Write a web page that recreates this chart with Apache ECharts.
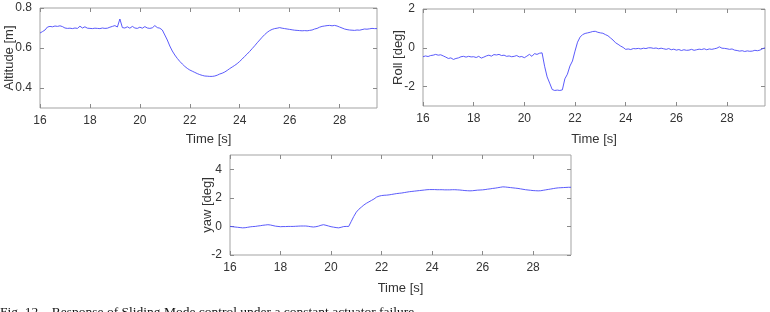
<!DOCTYPE html>
<html>
<head>
<meta charset="utf-8">
<script src="https://cdn.jsdelivr.net/npm/echarts@6/dist/echarts.min.js"></script>
<style>
html,body{margin:0;padding:0;background:#fff;}
#chart{width:770px;height:312px;}
</style>
</head>
<body>
<div id="chart"></div>
<script>
// ---- data ----
const time = [
16.0,16.1,16.2,16.3,16.4,16.5,16.6,16.7,16.8,16.9,
17.0,17.1,17.2,17.3,17.4,17.5,17.6,17.7,17.8,17.9,
18.0,18.1,18.2,18.3,18.4,18.5,18.6,18.7,18.8,18.9,
19.0,19.1,19.2,19.3,19.4,19.5,19.6,19.7,19.8,19.9,
20.0,20.1,20.2,20.3,20.4,20.5,20.6,20.7,20.8,20.9,
21.0,21.1,21.2,21.3,21.4,21.5,21.6,21.7,21.8,21.9,
22.0,22.1,22.2,22.3,22.4,22.5,22.6,22.7,22.8,22.9,
23.0,23.1,23.2,23.3,23.4,23.5,23.6,23.7,23.8,23.9,
24.0,24.1,24.2,24.3,24.4,24.5,24.6,24.7,24.8,24.9,
25.0,25.1,25.2,25.3,25.4,25.5,25.6,25.7,25.8,25.9,
26.0,26.1,26.2,26.3,26.4,26.5,26.6,26.7,26.8,26.9,
27.0,27.1,27.2,27.3,27.4,27.5,27.6,27.7,27.8,27.9,
28.0,28.1,28.2,28.3,28.4,28.5,28.6,28.7,28.8,28.9,
29.0,29.1,29.2,29.3,29.4,29.5
];
const altitude = [
0.675,0.682,0.690,0.705,0.708,0.706,0.710,0.708,0.711,0.707,
0.700,0.698,0.699,0.697,0.700,0.698,0.709,0.700,0.706,0.699,
0.698,0.697,0.699,0.698,0.697,0.700,0.698,0.699,0.704,0.708,
0.712,0.705,0.745,0.702,0.700,0.706,0.699,0.708,0.700,0.698,
0.704,0.699,0.707,0.700,0.698,0.701,0.712,0.702,0.699,0.690,
0.665,0.640,0.610,0.585,0.565,0.548,0.533,0.520,0.508,0.498,
0.490,0.484,0.478,0.472,0.467,0.463,0.460,0.459,0.458,0.458,
0.460,0.464,0.470,0.474,0.480,0.488,0.497,0.505,0.513,0.522,
0.533,0.545,0.558,0.570,0.583,0.597,0.611,0.626,0.640,0.654,
0.667,0.678,0.687,0.693,0.697,0.699,0.702,0.699,0.697,0.695,
0.693,0.691,0.689,0.688,0.687,0.686,0.687,0.686,0.688,0.690,
0.695,0.698,0.704,0.708,0.710,0.712,0.713,0.711,0.713,0.710,
0.705,0.700,0.695,0.692,0.690,0.689,0.688,0.690,0.689,0.692,
0.695,0.694,0.696,0.698,0.697,0.697
];
const roll = [
-0.46,-0.42,-0.45,-0.40,-0.38,-0.34,-0.38,-0.36,-0.42,-0.48,
-0.55,-0.52,-0.60,-0.55,-0.52,-0.46,-0.44,-0.48,-0.44,-0.47,
-0.46,-0.50,-0.44,-0.53,-0.48,-0.42,-0.38,-0.43,-0.35,-0.37,
-0.34,-0.40,-0.38,-0.44,-0.42,-0.46,-0.44,-0.40,-0.47,-0.45,
-0.51,-0.43,-0.34,-0.44,-0.30,-0.34,-0.28,-0.26,-0.95,-1.50,
-1.82,-2.15,-2.20,-2.18,-2.20,-2.17,-1.60,-1.36,-0.94,-0.68,
-0.17,0.29,0.55,0.68,0.74,0.77,0.80,0.84,0.85,0.80,
0.77,0.75,0.68,0.62,0.51,0.40,0.26,0.18,0.09,0.02,
-0.08,-0.06,-0.09,-0.04,-0.05,-0.03,-0.06,-0.02,-0.04,0.00,
0.00,-0.03,-0.01,-0.05,-0.02,-0.05,-0.08,-0.04,-0.10,-0.07,
-0.12,-0.09,-0.14,-0.10,-0.13,-0.12,-0.08,-0.13,-0.10,-0.07,
-0.09,-0.05,-0.10,-0.06,-0.08,-0.05,-0.02,0.05,-0.02,-0.03,
-0.05,-0.08,-0.06,-0.12,-0.14,-0.17,-0.15,-0.19,-0.16,-0.18,
-0.17,-0.13,-0.15,-0.12,-0.05,0.00
];
const yaw = [
0.00,-0.02,-0.04,-0.06,-0.08,-0.10,-0.09,-0.06,-0.03,-0.01,
0.00,0.03,0.05,0.08,0.10,0.12,0.10,0.06,0.02,0.00,
-0.02,-0.01,-0.01,0.00,0.00,0.00,0.01,0.02,0.03,0.03,
0.03,0.01,-0.02,-0.04,-0.02,0.02,0.08,0.12,0.08,0.03,
-0.02,-0.05,-0.08,-0.10,-0.06,-0.01,0.00,0.00,0.35,0.70,
1.00,1.20,1.35,1.50,1.62,1.72,1.82,1.92,2.05,2.12,
2.16,2.18,2.19,2.21,2.24,2.27,2.30,2.32,2.34,2.37,
2.40,2.43,2.45,2.47,2.49,2.51,2.53,2.55,2.57,2.58,
2.58,2.58,2.57,2.57,2.57,2.56,2.56,2.56,2.57,2.57,
2.56,2.55,2.53,2.51,2.50,2.49,2.50,2.52,2.54,2.55,
2.56,2.58,2.61,2.63,2.66,2.68,2.71,2.74,2.77,2.76,
2.74,2.72,2.70,2.68,2.66,2.63,2.60,2.57,2.55,2.53,
2.51,2.50,2.49,2.50,2.53,2.56,2.59,2.62,2.65,2.68,
2.70,2.71,2.72,2.73,2.74,2.74
];
const xTicks = [16, 18, 20, 22, 24, 26, 28];
const altTicks = [0.4, 0.6, 0.8];
const rollTicks = [-2, 0, 2];
const yawTicks = [-2, 0, 2, 4];
const xLabel = 'Time [s]';
const yLabels = ['Altitude [m]', 'Roll [deg]', 'yaw [deg]'];
const caption = 'Fig. 12.   Response of Sliding Mode control under a constant actuator failure';

// ---- styling / layout ----
const FONT = 'Liberation Sans';
const TXT = '#333333';
const BOX = '#a3a3a3';
const LINE = '#4848fa';

const grids = [
  {left: 40, top: 8, width: 337, height: 100, nameGapY: 24, nameGapX: 25},
  {left: 423, top: 9, width: 342, height: 97, nameGapY: 18, nameGapX: 27},
  {left: 230, top: 155, width: 341, height: 100, nameGapY: 16, nameGapX: 27}
];
const yRanges = [[0.3, 0.8], [-3, 2], [-2, 5]];
const yTickSets = [altTicks, rollTicks, yawTicks];
const seriesData = [altitude, roll, yaw];

const option = {
  animation: false,
  backgroundColor: '#fff',
  grid: grids.map(g => ({left: g.left, top: g.top, width: g.width, height: g.height,
    show: true, borderColor: BOX, borderWidth: 1, backgroundColor: '#fff',
    containLabel: false, outerBoundsMode: 'none'})),
  xAxis: [],
  yAxis: [],
  series: [],
  graphic: [{
    type: 'text', left: 0, top: 305,
    style: {text: caption, font: '13.5px "Liberation Serif"', fill: '#111'}
  }]
};

grids.forEach((g, i) => {
  const tickStyle = {show: true, inside: true, length: 4, lineStyle: {color: '#8a8a8a', width: 1}};
  const noLine = {show: false, onZero: false};
  option.xAxis.push({
    type: 'value', gridIndex: i, position: 'bottom', min: 16, max: 29.5,
    axisLine: noLine, splitLine: {show: false},
    axisTick: Object.assign({customValues: xTicks}, tickStyle),
    axisLabel: {customValues: xTicks, margin: 7, fontFamily: FONT, fontSize: 12, color: TXT},
    name: xLabel, nameLocation: 'middle', nameGap: g.nameGapX, nameMoveOverlap: false,
    nameTextStyle: {fontFamily: FONT, fontSize: 13, color: TXT}
  });
  option.xAxis.push({
    type: 'value', gridIndex: i, position: 'top', min: 16, max: 29.5,
    axisLine: noLine, splitLine: {show: false},
    axisTick: Object.assign({customValues: xTicks}, tickStyle),
    axisLabel: {show: false}
  });
  option.yAxis.push({
    type: 'value', gridIndex: i, position: 'left', min: yRanges[i][0], max: yRanges[i][1],
    axisLine: noLine, splitLine: {show: false},
    axisTick: Object.assign({customValues: yTickSets[i]}, tickStyle),
    axisLabel: {customValues: yTickSets[i], margin: 8, fontFamily: FONT, fontSize: 12, color: TXT},
    name: yLabels[i], nameLocation: 'middle', nameGap: g.nameGapY, nameMoveOverlap: false,
    nameTextStyle: {fontFamily: FONT, fontSize: 13, color: TXT}
  });
  option.yAxis.push({
    type: 'value', gridIndex: i, position: 'right', min: yRanges[i][0], max: yRanges[i][1],
    axisLine: noLine, splitLine: {show: false},
    axisTick: Object.assign({customValues: yTickSets[i]}, tickStyle),
    axisLabel: {show: false}
  });
  option.series.push({
    type: 'line', xAxisIndex: i * 2, yAxisIndex: i * 2,
    data: time.map((t, k) => [t, seriesData[i][k]]),
    showSymbol: false, symbol: 'none', smooth: false,
    lineStyle: {color: LINE, width: 0.9}, itemStyle: {color: LINE}
  });
});

const chart = echarts.init(document.getElementById('chart'), null, {renderer: 'canvas'});
chart.setOption(option);
</script>
</body>
</html>
